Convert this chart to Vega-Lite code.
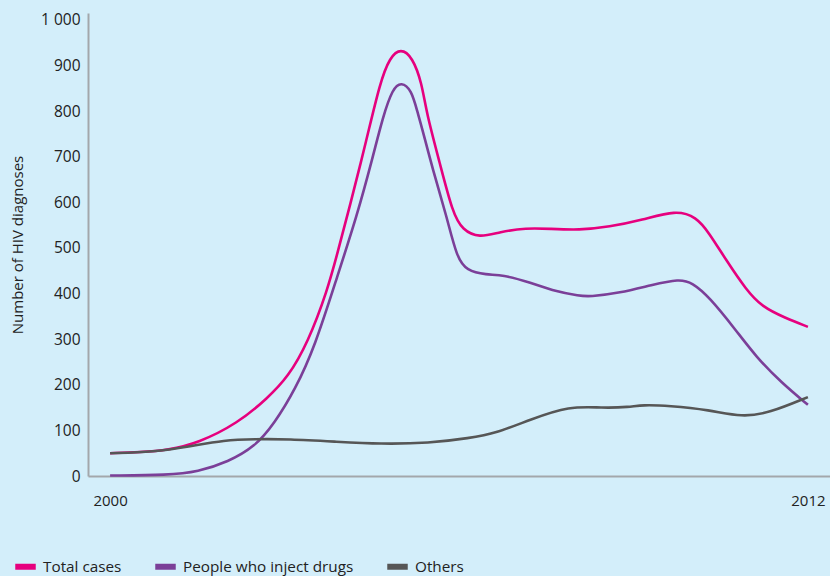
{
  "$schema": "https://vega.github.io/schema/vega-lite/v6.json",
  "autosize": {"type": "none"},
  "width": 742,
  "height": 463,
  "padding": {"left": 88, "top": 13, "right": 0, "bottom": 100},
  "background": "#d3eefa",
  "config": {
    "view": {"stroke": null},
    "font": "Open Sans",
    "axis": {"labelFont": "Open Sans", "titleFont": "Open Sans", "labelColor": "#222", "titleColor": "#222", "grid": false, "ticks": false, "domainColor": "#a3a7ab", "domainWidth": 2},
    "legend": {"labelFont": "Open Sans", "labelColor": "#222"}
  },
  "data": {"values": [
    {"year": 2000.00, "value": 50, "series": "Total cases"},
    {"year": 2000.52, "value": 52, "series": "Total cases"},
    {"year": 2001.00, "value": 57, "series": "Total cases"},
    {"year": 2001.51, "value": 72, "series": "Total cases"},
    {"year": 2002.20, "value": 116, "series": "Total cases"},
    {"year": 2002.71, "value": 171, "series": "Total cases"},
    {"year": 2003.06, "value": 217, "series": "Total cases"},
    {"year": 2003.40, "value": 292, "series": "Total cases"},
    {"year": 2003.74, "value": 408, "series": "Total cases"},
    {"year": 2003.91, "value": 489, "series": "Total cases"},
    {"year": 2004.12, "value": 590, "series": "Total cases"},
    {"year": 2004.41, "value": 737, "series": "Total cases"},
    {"year": 2004.64, "value": 862, "series": "Total cases"},
    {"year": 2004.81, "value": 918, "series": "Total cases"},
    {"year": 2005.00, "value": 938, "series": "Total cases"},
    {"year": 2005.20, "value": 918, "series": "Total cases"},
    {"year": 2005.36, "value": 862, "series": "Total cases"},
    {"year": 2005.44, "value": 796, "series": "Total cases"},
    {"year": 2005.67, "value": 686, "series": "Total cases"},
    {"year": 2005.89, "value": 577, "series": "Total cases"},
    {"year": 2006.06, "value": 539, "series": "Total cases"},
    {"year": 2006.35, "value": 522, "series": "Total cases"},
    {"year": 2006.70, "value": 535, "series": "Total cases"},
    {"year": 2007.16, "value": 544, "series": "Total cases"},
    {"year": 2007.55, "value": 542, "series": "Total cases"},
    {"year": 2008.07, "value": 539, "series": "Total cases"},
    {"year": 2008.58, "value": 546, "series": "Total cases"},
    {"year": 2009.15, "value": 561, "series": "Total cases"},
    {"year": 2009.73, "value": 583, "series": "Total cases"},
    {"year": 2010.08, "value": 568, "series": "Total cases"},
    {"year": 2010.30, "value": 533, "series": "Total cases"},
    {"year": 2010.59, "value": 474, "series": "Total cases"},
    {"year": 2010.94, "value": 408, "series": "Total cases"},
    {"year": 2011.21, "value": 371, "series": "Total cases"},
    {"year": 2011.62, "value": 346, "series": "Total cases"},
    {"year": 2012.00, "value": 327, "series": "Total cases"},

    {"year": 2000.00, "value": 1, "series": "People who inject drugs"},
    {"year": 2001.00, "value": 2, "series": "People who inject drugs"},
    {"year": 2001.51, "value": 9, "series": "People who inject drugs"},
    {"year": 2002.03, "value": 31, "series": "People who inject drugs"},
    {"year": 2002.49, "value": 64, "series": "People who inject drugs"},
    {"year": 2002.83, "value": 116, "series": "People who inject drugs"},
    {"year": 2003.18, "value": 189, "series": "People who inject drugs"},
    {"year": 2003.52, "value": 283, "series": "People who inject drugs"},
    {"year": 2003.91, "value": 439, "series": "People who inject drugs"},
    {"year": 2004.24, "value": 568, "series": "People who inject drugs"},
    {"year": 2004.52, "value": 700, "series": "People who inject drugs"},
    {"year": 2004.69, "value": 787, "series": "People who inject drugs"},
    {"year": 2004.86, "value": 850, "series": "People who inject drugs"},
    {"year": 2005.01, "value": 864, "series": "People who inject drugs"},
    {"year": 2005.18, "value": 847, "series": "People who inject drugs"},
    {"year": 2005.29, "value": 796, "series": "People who inject drugs"},
    {"year": 2005.36, "value": 765, "series": "People who inject drugs"},
    {"year": 2005.55, "value": 671, "series": "People who inject drugs"},
    {"year": 2005.79, "value": 568, "series": "People who inject drugs"},
    {"year": 2005.96, "value": 480, "series": "People who inject drugs"},
    {"year": 2006.13, "value": 450, "series": "People who inject drugs"},
    {"year": 2006.47, "value": 441, "series": "People who inject drugs"},
    {"year": 2006.75, "value": 441, "series": "People who inject drugs"},
    {"year": 2007.21, "value": 425, "series": "People who inject drugs"},
    {"year": 2007.67, "value": 404, "series": "People who inject drugs"},
    {"year": 2008.07, "value": 395, "series": "People who inject drugs"},
    {"year": 2008.24, "value": 393, "series": "People who inject drugs"},
    {"year": 2008.76, "value": 401, "series": "People who inject drugs"},
    {"year": 2009.32, "value": 419, "series": "People who inject drugs"},
    {"year": 2009.79, "value": 432, "series": "People who inject drugs"},
    {"year": 2010.01, "value": 424, "series": "People who inject drugs"},
    {"year": 2010.30, "value": 393, "series": "People who inject drugs"},
    {"year": 2010.76, "value": 320, "series": "People who inject drugs"},
    {"year": 2011.11, "value": 261, "series": "People who inject drugs"},
    {"year": 2011.55, "value": 204, "series": "People who inject drugs"},
    {"year": 2012.00, "value": 156, "series": "People who inject drugs"},

    {"year": 2000.00, "value": 50, "series": "Others"},
    {"year": 2000.77, "value": 53, "series": "Others"},
    {"year": 2001.34, "value": 64, "series": "Others"},
    {"year": 2001.97, "value": 79, "series": "Others"},
    {"year": 2002.49, "value": 81, "series": "Others"},
    {"year": 2003.06, "value": 81, "series": "Others"},
    {"year": 2003.91, "value": 75, "series": "Others"},
    {"year": 2004.64, "value": 70, "series": "Others"},
    {"year": 2005.49, "value": 72, "series": "Others"},
    {"year": 2006.18, "value": 83, "series": "Others"},
    {"year": 2006.64, "value": 94, "series": "Others"},
    {"year": 2007.21, "value": 123, "series": "Others"},
    {"year": 2007.90, "value": 154, "series": "Others"},
    {"year": 2008.46, "value": 149, "series": "Others"},
    {"year": 2008.93, "value": 151, "series": "Others"},
    {"year": 2009.15, "value": 156, "series": "Others"},
    {"year": 2009.61, "value": 154, "series": "Others"},
    {"year": 2010.30, "value": 145, "series": "Others"},
    {"year": 2010.87, "value": 129, "series": "Others"},
    {"year": 2011.33, "value": 138, "series": "Others"},
    {"year": 2012.00, "value": 173, "series": "Others"}
  ]},
  "mark": {"type": "line", "interpolate": "basis", "strokeWidth": 2.6},
  "encoding": {
    "x": {
      "field": "year", "type": "quantitative",
      "scale": {"domain": [1999.62, 2012.38], "nice": false, "zero": false},
      "axis": {"values": [2000, 2012], "format": "d", "title": null, "labelFontSize": 15, "labelPadding": 17, "labelFlush": false}
    },
    "y": {
      "field": "value", "type": "quantitative",
      "scale": {"domain": [0, 1015], "nice": false},
      "axis": {"values": [0, 100, 200, 300, 400, 500, 600, 700, 800, 900, 1000], "labelExpr": "datum.value >= 1000 ? '1 000' : datum.label", "labelFontSize": 15.5, "labelPadding": 8, "title": "Number of HIV diagnoses", "titleFontSize": 15, "titleFontWeight": "normal", "titlePadding": 15}
    },
    "color": {
      "field": "series", "type": "nominal",
      "scale": {"domain": ["Total cases", "People who inject drugs", "Others"], "range": ["#e6007e", "#7b3f98", "#565656"]},
      "legend": {
        "title": null, "orient": "none", "direction": "horizontal",
        "legendX": -76, "legendY": 540,
        "symbolType": "stroke", "symbolSize": 420, "symbolStrokeWidth": 6,
        "labelFontSize": 15.3, "labelOffset": 4, "labelLimit": 400, "columnPadding": 21
      }
    }
  }
}
